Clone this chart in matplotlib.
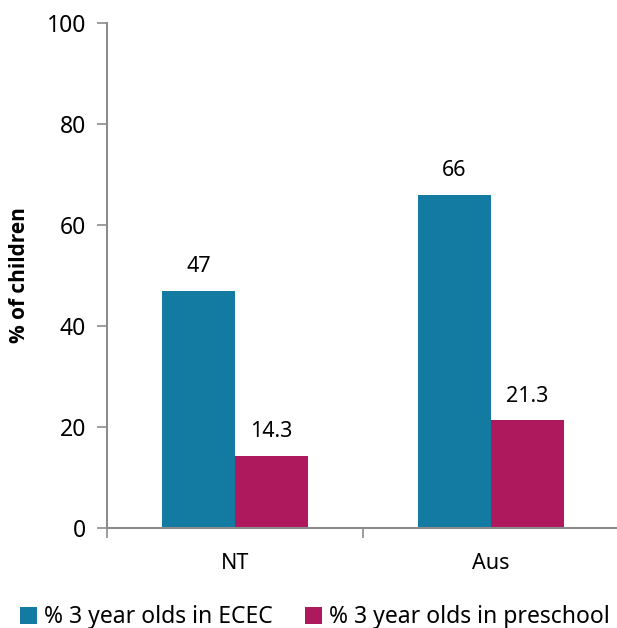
import numpy as np
import matplotlib

matplotlib.use('Agg')
import matplotlib.pyplot as plt

plt.rcParams['font.family'] = ['Noto Sans', 'DejaVu Sans']

# 数据
regions = ['NT', 'Aus']
ecec = [47, 66]
preschool = [14.3, 21.3]
series_names = ['% 3 year olds in ECEC', '% 3 year olds in preschool']
y_ticks = [0, 20, 40, 60, 80, 100]

C_ECEC = '#137AA1'
C_PRE = '#AE185D'
GREY = '#8C8C8C'

fig = plt.figure(figsize=(6.17, 6.28), dpi=100)
ax = fig.add_axes([107 / 617, 100 / 628, 512 / 617, 505 / 628])

x = np.arange(len(regions))
w = 0.285
b1 = ax.bar(x - w / 2, ecec, w, color=C_ECEC, label=series_names[0])
b2 = ax.bar(x + w / 2, preschool, w, color=C_PRE, label=series_names[1])

for bars, vals in ((b1, ecec), (b2, preschool)):
    for r, v in zip(bars, vals):
        ax.annotate(f'{v:g}', (r.get_x() + r.get_width() / 2, v),
                    xytext=(0, 10), textcoords='offset points',
                    ha='center', va='bottom', fontsize=15.5, color='black')

ax.set_xlim(-0.5, len(regions) - 0.5)
ax.set_ylim(0, 100)
ax.set_yticks(y_ticks)
ax.tick_params(axis='y', length=7, width=1.2, color=GREY, labelsize=16.5, pad=8)

# 分类刻度放在组边界, 标签放在组中心
ax.set_xticks(x)
ax.set_xticklabels(regions)
ax.tick_params(axis='x', which='major', length=0, labelsize=15.5, pad=18)
ax.set_xticks(np.arange(-0.5, len(regions), 1.0), minor=True)
ax.tick_params(axis='x', which='minor', length=7, width=1.2, color=GREY)

for s in ('top', 'right'):
    ax.spines[s].set_visible(False)
for s in ('left', 'bottom'):
    ax.spines[s].set_color(GREY)
    ax.spines[s].set_linewidth(1.5)

ax.set_ylabel('% of children', fontsize=15, fontweight='bold', labelpad=12,
              family=['Open Sans', 'DejaVu Sans'])

fig.legend(loc='lower center', bbox_to_anchor=(0.51, -0.035), ncol=2, frameon=False,
           fontsize=16.5, handlelength=0.75, handleheight=0.75, handletextpad=0.3,
           columnspacing=1.4)

fig.savefig('out.png', dpi=100)
plt.close(fig)
